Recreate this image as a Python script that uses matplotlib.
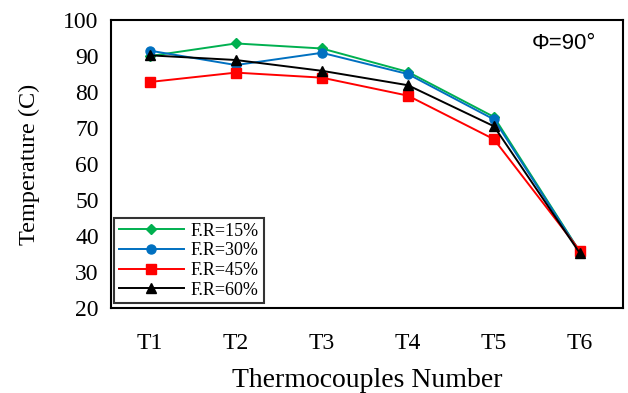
import matplotlib
matplotlib.use("Agg")
import matplotlib.pyplot as plt

# --- data ---
labels = ["T1", "T2", "T3", "T4", "T5", "T6"]
fr15 = [90.0, 93.5, 92.1, 85.6, 73.1, 35.6]
fr30 = [91.5, 87.5, 90.9, 85.0, 72.4, 35.5]
fr45 = [82.8, 85.4, 84.0, 79.0, 66.9, 35.9]
fr60 = [90.2, 88.9, 85.9, 81.9, 70.5, 35.2]

x = list(range(1, len(labels) + 1))

fig = plt.figure(figsize=(6.28, 3.93), dpi=100)
ax = fig.add_axes([0.177, 0.216, 0.815, 0.733])

ax.plot(x, fr15, color='#00B050', lw=1.4, marker='D', ms=5, label='F.R=15%')
ax.plot(x, fr30, color='#0070C0', lw=1.4, marker='o', ms=6.5, label='F.R=30%')
ax.plot(x, fr45, color='#FF0000', lw=1.4, marker='s', ms=6.5, label='F.R=45%')
ax.plot(x, fr60, color='black', lw=1.4, marker='^', ms=6.5, label='F.R=60%')

ax.set_xlim(0.55, 6.5)
ax.set_ylim(20, 100)
ax.set_yticks(range(20, 101, 10))
ax.set_xticks(x)
ax.set_xticklabels(labels)
ax.tick_params(length=0, labelsize=17)
ax.tick_params(axis='y', pad=9)
ax.tick_params(axis='x', pad=18)
for t in ax.get_xticklabels() + ax.get_yticklabels():
    t.set_fontfamily('Liberation Serif')
for s in ax.spines.values():
    s.set_linewidth(1.5)

ax.set_xlabel('Thermocouples Number', fontsize=20, family='Liberation Serif', labelpad=10)
ax.set_ylabel('Temperature (C)', fontsize=17.5, family='Liberation Serif', labelpad=17)

ax.text(0.948, 0.92, 'Φ=90°', transform=ax.transAxes, ha='right', va='center',
        fontsize=16, family='Liberation Sans')

leg = ax.legend(loc='lower left', bbox_to_anchor=(0.006, 0.017), fancybox=False,
                edgecolor='black', prop={'family': 'Liberation Serif', 'size': 13},
                handlelength=3.6, labelspacing=0.15, borderpad=0.25, handletextpad=0.4,
                borderaxespad=0)
leg.get_frame().set_linewidth(1.5)

fig.savefig('out.png', dpi=100)
